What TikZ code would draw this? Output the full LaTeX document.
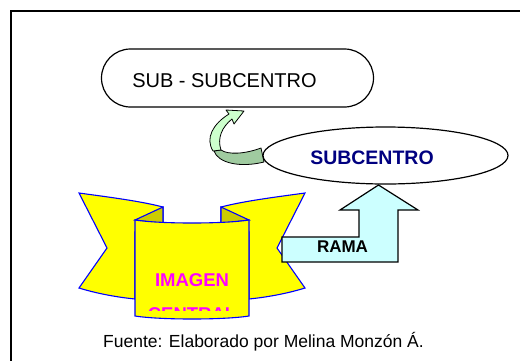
\documentclass[tikz,border=0pt]{standalone}
\usepackage{fontspec}
\setmainfont{Liberation Sans}
\usetikzlibrary{shapes.geometric}
\definecolor{bannerY}{HTML}{FFFF00}
\definecolor{bannerB}{HTML}{0000FF}
\definecolor{foldY}{HTML}{CCCC00}
\definecolor{lgreen}{HTML}{CCFFCC}
\definecolor{dgreen}{HTML}{A0CBA0}
\definecolor{lcyan}{HTML}{CCFFFF}
\definecolor{navytxt}{HTML}{000080}
\definecolor{magtxt}{HTML}{FF00FF}
\tikzset{
  bannerpart/.style={fill=bannerY, draw=bannerB, line width=1.1pt, line join=miter},
  foldpart/.style={fill=foldY, draw=bannerB, line width=1.1pt},
  greenpart/.style={draw=black, line width=0.8pt, line join=round},
  outl/.style={draw=black, line width=1.2pt}
}
\begin{document}
\begin{tikzpicture}[x=1pt,y=-1pt]
\useasboundingbox (0,0) rectangle (520,360);
\fill[white] (0,0) rectangle (520,360);
\begin{scope}
\clip (0,0) rectangle (520,360);
\draw[line width=1.5pt] (11,11) rectangle (540,380);
\end{scope}
% SUB-SUBCENTRO
\node[outl, rounded corners=29pt, minimum width=272pt, minimum height=58pt, inner sep=0pt] (subsub) at (237.5,78) {};
\node[anchor=base, font=\fontsize{20}{24}\selectfont, inner sep=0pt] (subsubtxt) at (224.5,87) {SUB - SUBCENTRO};
% green curved arrow
\path[greenpart, fill=dgreen] (214,151) .. controls (218,163) and (240,168) .. (264,162) -- (261,148) .. controls (245,154) and (228,155) .. (221,150) -- cycle;
\path[greenpart, fill=lgreen] (213,151) .. controls (205,138) and (213,124) .. (229,114) -- (226,110) -- (244,111) -- (234,124) -- (232,119) .. controls (222,127) and (217,138) .. (221,150) -- cycle;
% SUBCENTRO
\node[outl, ellipse, minimum width=245pt, minimum height=57pt, inner sep=0pt] (subc) at (385.5,155.5) {};
\node[anchor=base, text=navytxt, font=\bfseries\fontsize{19.5}{23}\selectfont, inner sep=0pt] (subctxt) at (372,164) {SUBCENTRO};
% banner wings
\path[bannerpart] (79,193) .. controls (108,197) and (140,201) .. (163,207) -- (163,232) -- (135,232) -- (135,299) .. controls (115,297) and (95,293) .. (79,288) -- (107,248) -- cycle;
\path[bannerpart] (305,193) .. controls (276,197) and (244,201) .. (221,207) -- (221,232) -- (249,232) -- (249,299) .. controls (269,297) and (289,293) .. (305,288) -- (277,248) -- cycle;
\path[foldpart] (163,207) -- (135,220) -- (163,223.5) -- cycle;
\path[foldpart] (221,207) -- (249,220) -- (221,223.5) -- cycle;
\path[bannerpart] (135,220) .. controls (160,224) and (224,224) .. (249,220) -- (249,316) .. controls (224,320) and (160,320) .. (135,316) -- cycle;
\node[anchor=base, text=magtxt, font=\bfseries\fontsize{18.5}{22}\selectfont, inner sep=0pt] (imgtxt) at (192,286) {IMAGEN};
\begin{scope}
\clip (136,300) rectangle (248,310);
\node[anchor=base, text=magtxt, font=\bfseries\fontsize{18.5}{22}\selectfont, inner sep=0pt] (centxt) at (192,320) {CENTRAL};
\end{scope}
% RAMA arrow
\path[outl, fill=lcyan, line join=miter] (282,237) -- (359,237) -- (359,210) -- (340,210) -- (378.5,185) -- (418,210) -- (398,210) -- (398,262) -- (282,262) -- cycle;
\node[anchor=base, font=\bfseries\fontsize{17}{20}\selectfont, inner sep=0pt] (ramatxt) at (342.5,252) {RAMA};
% caption
\node[anchor=base, font=\fontsize{17.5}{21}\selectfont, inner sep=0pt] (caption) at (263.5,347) {Fuente: Elaborado por Melina Monzón Á.};
\end{tikzpicture}
\end{document}
